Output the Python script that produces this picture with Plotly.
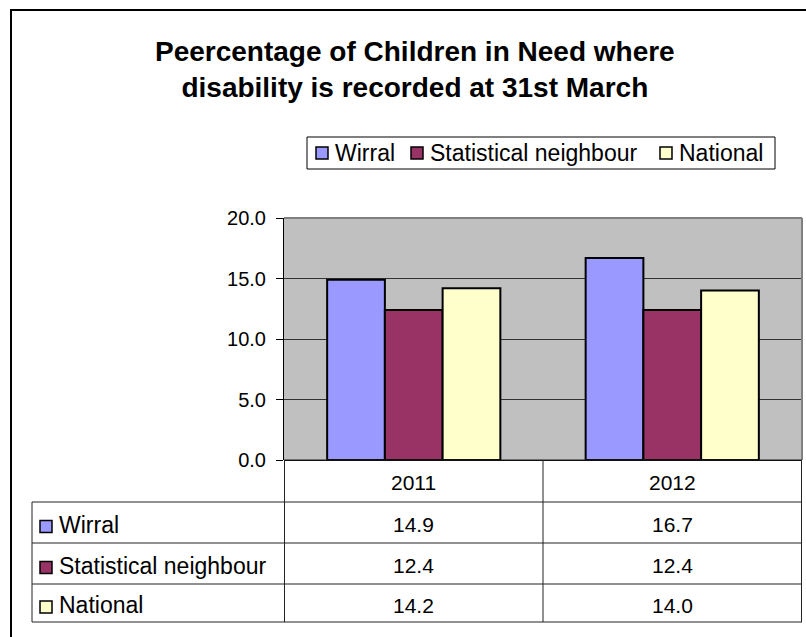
import plotly.graph_objects as go

# Data
years = ["2011", "2012"]
series_names = ["Wirral", "Statistical neighbour", "National"]
wirral = [14.9, 16.7]
statistical_neighbour = [12.4, 12.4]
national = [14.2, 14.0]
series_values = [wirral, statistical_neighbour, national]
series_colors = ["#9999FF", "#993366", "#FFFFCC"]
y_ticks = [0, 5, 10, 15, 20]

title_text = "Peercentage of Children in Need where<br>disability is recorded at 31st March"

W, H = 806, 637
# plot area in pixels
L, R, T, B = 284, 802, 218, 460
PW, PH = R - L, B - T

FONT = "Liberation Sans, Arial, sans-serif"


def px_x(p):
    return (p - L) / PW


def px_y(p):
    return (B - p) / PH


fig = go.Figure()
for name, vals, col in zip(series_names, series_values, series_colors):
    fig.add_trace(go.Bar(
        x=years, y=vals, name=name,
        marker=dict(color=col, line=dict(color="black", width=2)),
        hoverinfo="x+y+name",
    ))

shapes = []
annotations = []

# outer chart border
shapes.append(dict(type="rect", xref="paper", yref="paper",
                   x0=px_x(11), x1=px_x(840), y0=px_y(10), y1=px_y(680),
                   line=dict(color="black", width=2), fillcolor="rgba(0,0,0,0)", layer="below"))

# plot area border (top/right in grey)
shapes.append(dict(type="line", xref="paper", yref="paper", x0=0, x1=1, y0=1, y1=1,
                   line=dict(color="#808080", width=2)))
shapes.append(dict(type="line", xref="paper", yref="paper", x0=1, x1=1, y0=0, y1=1,
                   line=dict(color="#808080", width=2)))

# title
annotations.append(dict(x=px_x(415), y=px_y(69), xref="paper", yref="paper",
                        xanchor="center", yanchor="middle", text=title_text, showarrow=False,
                        font=dict(family=FONT, size=28, color="black", weight="bold")))

# legend box with swatches
leg_top, leg_bot = 137, 169
leg_mid = (leg_top + leg_bot) / 2
shapes.append(dict(type="rect", xref="paper", yref="paper",
                   x0=px_x(307), x1=px_x(775), y0=px_y(leg_top), y1=px_y(leg_bot),
                   line=dict(color="black", width=1), fillcolor="white"))
legend_swatch_x = [316, 411, 660]
for name, col, sx in zip(series_names, series_colors, legend_swatch_x):
    shapes.append(dict(type="rect", xref="paper", yref="paper",
                       x0=px_x(sx), x1=px_x(sx + 12), y0=px_y(leg_mid - 6), y1=px_y(leg_mid + 6),
                       fillcolor=col, line=dict(color="black", width=1.5)))
    annotations.append(dict(x=px_x(sx + 17), y=px_y(leg_mid), xref="paper", yref="paper",
                            xanchor="left", yanchor="middle", text=name, showarrow=False,
                            font=dict(family=FONT, size=23, color="black")))

# data table grid
row_edges = [460, 502, 543, 584, 622]
line_col = "#222222"
shapes.append(dict(type="line", xref="paper", yref="paper", x0=0, x1=1,
                   y0=px_y(row_edges[0]), y1=px_y(row_edges[0]), line=dict(color=line_col, width=1)))
for yy in row_edges[1:]:
    shapes.append(dict(type="line", xref="paper", yref="paper", x0=px_x(32), x1=1,
                       y0=px_y(yy), y1=px_y(yy), line=dict(color=line_col, width=1)))
# vertical lines: category boundaries on the x-axis scale
for xv in [-0.5, 0.5, 1.5]:
    shapes.append(dict(type="line", xref="x", yref="paper", x0=xv, x1=xv,
                       y0=px_y(row_edges[0]), y1=px_y(row_edges[-1]), line=dict(color=line_col, width=1)))
shapes.append(dict(type="line", xref="paper", yref="paper", x0=px_x(32), x1=px_x(32),
                   y0=px_y(row_edges[1]), y1=px_y(row_edges[-1]), line=dict(color=line_col, width=1)))

# header years
for i, yr in enumerate(years):
    annotations.append(dict(x=i, y=px_y((row_edges[0] + row_edges[1]) / 2 + 1), xref="x", yref="paper",
                            xanchor="center", yanchor="middle",
                            text=yr, showarrow=False, font=dict(family=FONT, size=21, color="black")))

# table rows
for r, (name, vals, col) in enumerate(zip(series_names, series_values, series_colors)):
    yc = (row_edges[r + 1] + row_edges[r + 2]) / 2 + 2
    shapes.append(dict(type="rect", xref="paper", yref="paper",
                       x0=px_x(40), x1=px_x(52), y0=px_y(yc + 8), y1=px_y(yc - 4),
                       fillcolor=col, line=dict(color="black", width=1.5)))
    annotations.append(dict(x=px_x(57), y=px_y(yc), xref="paper", yref="paper",
                            xanchor="left", yanchor="middle",
                            text=name, showarrow=False, font=dict(family=FONT, size=23, color="black")))
    for i, v in enumerate(vals):
        annotations.append(dict(x=i, y=px_y(yc), xref="x", yref="paper",
                                xanchor="center", yanchor="middle",
                                text=f"{v:.1f}", showarrow=False,
                                font=dict(family=FONT, size=21, color="black")))

fig.update_layout(
    width=W, height=H,
    margin=dict(l=L, r=W - R, t=T, b=H - B, pad=0),
    paper_bgcolor="white",
    plot_bgcolor="#C0C0C0",
    barmode="group",
    bargap=0.33,
    bargroupgap=0,
    showlegend=False,
    xaxis=dict(showticklabels=False, showgrid=False, zeroline=False,
               showline=False, ticks="", fixedrange=True),
    yaxis=dict(range=[0, 20], tickvals=y_ticks, tickformat=".1f",
               showgrid=True, gridcolor="#333333", gridwidth=1,
               zeroline=True, zerolinecolor="black", zerolinewidth=1,
               showline=True, linecolor="black", linewidth=1,
               ticks="outside", ticklen=7, tickcolor="black",
               ticklabelstandoff=6,
               tickfont=dict(family=FONT, size=20, color="black"), fixedrange=True),
    shapes=shapes,
    annotations=annotations,
)

fig.write_html("out.html")
